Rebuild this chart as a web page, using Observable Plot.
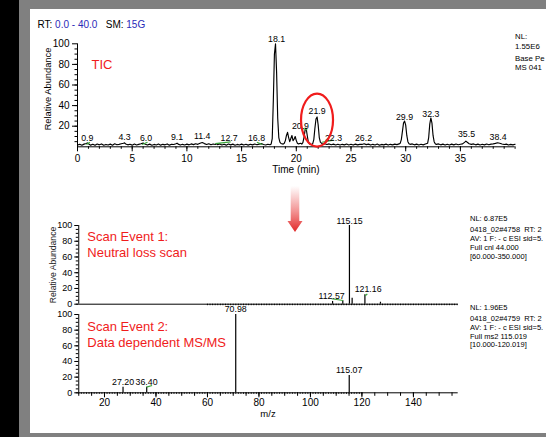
<!DOCTYPE html>
<html><head><meta charset="utf-8">
<script src="https://cdn.jsdelivr.net/npm/d3@7"></script>
<script src="https://cdn.jsdelivr.net/npm/@observablehq/plot@0.6"></script>
<style>
html,body{margin:0;padding:0;background:#fff;}
#wrap{position:relative;width:546px;height:437px;overflow:hidden;background:#808080;}
#black{position:absolute;left:0;top:0;width:19px;height:437px;background:#000;}
#panel{position:absolute;left:30px;top:9px;width:516px;height:424px;background:#fff;}
#wrap svg{position:absolute;left:0;top:0;}
</style></head><body>
<div id="wrap"><div id="black"></div><div id="panel"></div></div>
<script>
// ---------- data ----------
const ticPoints = [
[0.0,1.8],[0.2,2.4],[0.4,1.5],[0.6,2.6],[0.8,3.2],[0.9,3.8],[1.0,2.9],[1.2,1.6],[1.4,2.5],[1.6,1.4],[1.8,2.7],[2.0,1.9],[2.2,2.8],[2.4,1.5],[2.6,2.3],[2.8,1.7],[3.0,2.6],[3.2,1.6],[3.4,2.9],[3.6,2.0],[3.8,2.4],[4.0,2.9],[4.2,3.4],[4.3,3.8],[4.4,2.8],[4.6,1.9],[4.8,2.5],[5.0,1.6],[5.2,2.7],[5.4,1.8],[5.6,2.4],[5.8,2.9],[6.0,3.6],[6.2,2.5],[6.4,1.7],[6.6,2.6],[6.8,1.5],[7.0,2.3],[7.2,1.8],[7.4,2.7],[7.6,1.6],[7.8,2.4],[8.0,1.9],[8.2,2.8],[8.4,1.6],[8.6,2.5],[8.8,2.2],[9.0,3.0],[9.1,3.5],[9.2,2.6],[9.4,1.7],[9.6,2.4],[9.8,1.8],[10.0,2.6],[10.2,1.9],[10.4,2.8],[10.6,2.1],[10.8,3.0],[11.0,2.4],[11.2,3.4],[11.4,4.2],[11.6,3.1],[11.8,2.2],[12.0,3.0],[12.2,2.0],[12.4,2.7],[12.6,2.2],[12.7,3.0],[12.8,2.1],[13.0,2.8],[13.2,1.8],[13.4,2.5],[13.6,1.6],[13.8,2.7],[14.0,1.9],[14.2,2.6],[14.4,1.5],[14.6,2.3],[14.8,1.8],[15.0,2.6],[15.2,1.7],[15.4,2.4],[15.6,1.6],[15.8,2.5],[16.0,1.9],[16.2,2.7],[16.4,2.0],[16.6,2.6],[16.8,3.1],[17.0,2.2],[17.2,1.8],[17.4,2.5],[17.6,2.0],[17.7,2.6],
[17.8,8],[17.9,45],[18.0,90],[18.1,100],[18.2,72],[18.3,28],[18.4,9],[18.5,4.5],[18.6,3.2],[18.8,2.6],[18.9,3.4],[19.0,6],[19.1,11],[19.2,14],[19.3,9],[19.4,5],[19.5,8],[19.6,11],[19.7,6],[19.8,7.5],[19.9,10],[20.0,6],[20.1,3.5],[20.2,2.8],[20.4,3.4],[20.5,2.6],[20.6,4],[20.7,9],[20.8,16],[20.9,18],[21.0,11],[21.1,4.5],[21.2,2.8],[21.4,2.2],[21.5,3.0],[21.6,7],[21.7,18],[21.8,27],[21.9,29],[22.0,21],[22.1,9],[22.2,4.5],[22.3,3.6],[22.4,2.6],[22.6,3.0],[22.8,2.2],[23.0,2.8],[23.2,2.0],[23.4,2.6],[23.6,1.8],[23.8,2.5],[24.0,1.7],[24.2,2.4],[24.4,1.9],[24.6,2.7],[24.8,1.8],[25.0,2.5],[25.2,1.7],[25.4,2.6],[25.6,1.9],[25.8,2.4],[26.0,2.3],[26.2,3.0],[26.4,2.1],[26.6,2.6],[26.8,1.7],[27.0,2.4],[27.2,1.8],[27.4,2.7],[27.6,1.6],[27.8,2.3],[28.0,1.9],[28.2,2.6],[28.4,1.7],[28.6,2.4],[28.8,1.9],[29.0,2.6],[29.2,2.1],[29.4,2.8],[29.5,3.5],[29.6,7],[29.7,15],[29.8,23],[29.9,25],[30.0,21],[30.1,11],[30.2,5],[30.3,3.0],[30.4,2.4],[30.6,2.8],[30.8,1.9],[31.0,2.6],[31.2,1.8],[31.4,2.5],[31.6,1.9],[31.8,2.7],[32.0,3.4],[32.1,9],[32.2,22],[32.3,28],[32.4,23],[32.5,11],[32.6,5],[32.7,3.0],[32.8,2.3],[33.0,2.8],[33.2,1.9],[33.4,2.6],[33.6,1.7],[33.8,2.5],[34.0,1.8],[34.2,2.6],[34.4,1.9],[34.6,2.7],[34.8,2.0],[35.0,2.5],[35.2,2.8],[35.4,4.5],[35.5,5.5],[35.6,4.6],[35.8,3.0],[36.0,2.4],[36.2,2.8],[36.4,1.9],[36.6,2.6],[36.8,1.8],[37.0,2.5],[37.2,1.9],[37.4,2.7],[37.6,2.0],[37.8,2.6],[38.0,2.9],[38.2,3.3],[38.4,3.9],[38.6,3.4],[38.8,2.7],[39.0,2.2],[39.2,2.6],[39.4,1.8],[39.6,2.4],[39.8,1.9],[40.0,2.5]
];
const ticLabels = [
  {label:"0.9", lx:0.89, ly:5.4}, {label:"4.3", lx:4.3, ly:6.8}, {label:"6.0", lx:6.26, ly:5.4},
  {label:"9.1", lx:9.1, ly:6.8}, {label:"11.4", lx:11.4, ly:7.7}, {label:"12.7", lx:13.86, ly:6},
  {label:"16.8", lx:16.36, ly:6}, {label:"18.1", lx:18.2, ly:101.5}, {label:"20.9", lx:20.38, ly:17.4},
  {label:"21.9", lx:21.9, ly:32}, {label:"22.3", lx:23.4, ly:6}, {label:"26.2", lx:26.14, ly:6},
  {label:"29.9", lx:29.89, ly:26.5}, {label:"32.3", lx:32.3, ly:29.4}, {label:"35.5", lx:35.56, ly:9.3},
  {label:"38.4", lx:38.45, ly:6.8}
];
const ticLeaders = [ // green label leaders [x1,y1,x2,y2]
  [0.82,2.2,1.13,4.4],[5.9,2.2,6.4,4.4],[12.6,3,14.0,4.8],[16.4,4.4,16.9,2.2],[20.5,18,21.0,16.5],[22.35,4.4,23.4,6.4]
];
const ticXTicks = [0,5,10,15,20,25,30,35];
const ticYTicks = [20,40,60,80,100];

const spec1 = [{mz:108.6,ab:3.5},{mz:112.57,ab:4.5},{mz:115.15,ab:100},{mz:116.2,ab:7.5},{mz:121.16,ab:12},{mz:127.2,ab:2.5}];
const spec1Labels = [{label:"115.15", mz:115.2, ab:102},{label:"112.57", mz:108.2, ab:6.9},{label:"121.16", mz:122.4, ab:15}];
const spec1Leaders = [[108.2,6.9,112.7,4.7],[121.3,10.7,122.1,13.2]];

const spec2 = [{mz:27.20,ab:7},{mz:36.40,ab:7},{mz:70.98,ab:100},{mz:115.07,ab:22}];
const spec2Labels = [{label:"70.98", mz:70.98, ab:103},{label:"115.07", mz:115.07, ab:25},{label:"27.20", mz:27.2, ab:10.6},{label:"36.40", mz:36.35, ab:10.6}];
const spec2Leaders = [[36.3,7.2,38.5,9.3]];

const specXTicks = [20,40,60,80,100,120,140];
const specYTicks = [0,20,40,60,80,100];

const infoTic = ["NL:", "1.55E6", "Base Pe", "MS 041"];
const info1 = ["NL: 6.87E5", "0418_02#4758  RT: 2", "AV: 1 F: - c ESI sid=5.", "Full cnl 44.000", "[60.000-350.000]"];
const info2 = ["NL: 1.96E5", "0418_02#4759  RT: 2", "AV: 1 F: - c ESI sid=5.", "Full ms2 115.019", "[10.000-120.019]"];

// ---------- drawing ----------
const FONT = 'Arial, "Liberation Sans", sans-serif';
const GREEN = "#3aa63a";
const RED = "#f01c1c";
const BLUE = "#2a2ab8";
const LABEL_SIZE = 8.8;
const wrap = document.getElementById("wrap");
const baseStyle = {fontFamily: FONT, fontSize: "10px", background: "transparent", overflow: "visible"};

const ticPlot = Plot.plot({
  width: 546, height: 437,
  marginLeft: 77, marginRight: 31.4, marginTop: 43.3, marginBottom: 290.7,
  x: {domain: [0, 40], label: null}, y: {domain: [0, 100], label: null},
  style: baseStyle,
  marks: [
    Plot.ruleY([0], {x1: 0, x2: 40, stroke: "black"}),
    Plot.ruleX([0], {y1: 0, y2: 100, stroke: "black"}),
    Plot.axisX(ticXTicks, {tickSize: 5, tickPadding: 3, fontSize: 10, label: null}),
    Plot.axisX(d3.range(0, 41), {tickSize: 2.5, tickFormat: () => "", label: null}),
    Plot.axisY(ticYTicks, {tickSize: 5, tickPadding: 3, fontSize: 10, label: null}),
    Plot.axisY(d3.range(5, 100, 5), {tickSize: 2.5, tickFormat: () => "", label: null}),
    Plot.line(ticPoints, {x: d => d[0], y: d => d[1], stroke: "black", strokeWidth: 1.15}),
    Plot.link(ticLeaders, {x1: d => d[0], y1: d => d[1], x2: d => d[2], y2: d => d[3], stroke: GREEN, strokeWidth: 1.2}),
    Plot.text(ticLabels, {x: "lx", y: "ly", text: "label", lineAnchor: "bottom", fontSize: LABEL_SIZE, fill: "black"})
  ]
});

function specPlot(sticks, labels, leaders, top, bottom, showX, minorFrom, minorTo) {
  const marks = [
    Plot.ruleY([0], {x1: 10, x2: 157.4, stroke: "black"}),
    Plot.ruleX([10], {y1: 0, y2: 100, stroke: "black"}),
    Plot.axisY(specYTicks, {tickSize: 4, tickPadding: 2.5, fontSize: 9, label: null}),
    Plot.axisY(d3.range(0, 101, 5), {tickSize: 2.5, tickFormat: () => "", label: null}),
    Plot.axisX(d3.range(minorFrom, minorTo), {tickSize: 1.5, tickFormat: () => "", label: null})
  ];
  if (showX) {
    marks.push(Plot.axisX(specXTicks, {tickSize: 5, tickPadding: 1.5, fontSize: 10, label: null}));
    marks.push(Plot.axisX(d3.range(10, 158, 5), {tickSize: 3.5, tickFormat: () => "", label: null}));
  }
  marks.push(
    Plot.ruleX(sticks, {x: "mz", y1: 0, y2: "ab", stroke: "black", strokeWidth: 1.2}),
    Plot.link(leaders, {x1: d => d[0], y1: d => d[1], x2: d => d[2], y2: d => d[3], stroke: GREEN, strokeWidth: 1.2}),
    Plot.text(labels, {x: "mz", y: "ab", text: "label", lineAnchor: "bottom", fontSize: LABEL_SIZE, fill: "black"})
  );
  return Plot.plot({
    width: 546, height: 437,
    marginLeft: 78.25, marginRight: 88.3, marginTop: top, marginBottom: 437 - bottom,
    x: {domain: [10, 157.4], label: null}, y: {domain: [0, 100], label: null},
    style: baseStyle,
    marks
  });
}
const s1 = specPlot(spec1, spec1Labels, spec1Leaders, 225, 303.7, false, 60, 158);
const s2 = specPlot(spec2, spec2Labels, spec2Leaders, 314, 392.3, true, 10, 121);

wrap.appendChild(ticPlot);
wrap.appendChild(s1);
wrap.appendChild(s2);

// red ellipse around the 21.9 peak, placed through the TIC scales
const sx = ticPlot.scale("x"), sy = ticPlot.scale("y");
d3.select(ticPlot).append("ellipse")
  .attr("cx", sx.apply(21.94)).attr("cy", sy.apply(25.5))
  .attr("rx", 16).attr("ry", 26.5)
  .attr("fill", "none").attr("stroke", RED).attr("stroke-width", 2.2);

// ---------- annotation overlay ----------
const ov = d3.create("svg").attr("width", 546).attr("height", 437)
  .style("font-family", FONT).style("overflow", "hidden");
const defs = ov.append("defs");
const lg = defs.append("linearGradient").attr("id", "arrowGrad")
  .attr("gradientUnits", "userSpaceOnUse").attr("x1", 0).attr("y1", 186).attr("x2", 0).attr("y2", 232);
lg.append("stop").attr("offset", 0).attr("stop-color", "#e83a3a").attr("stop-opacity", 0);
lg.append("stop").attr("offset", 0.55).attr("stop-color", "#e83a3a").attr("stop-opacity", 0.55);
lg.append("stop").attr("offset", 1).attr("stop-color", "#e02828").attr("stop-opacity", 1);
ov.append("path")
  .attr("d", "M290.7,186 L299.3,186 L299.3,221 L302.5,221 L295,232 L287.5,221 L290.7,221 Z")
  .attr("fill", "url(#arrowGrad)");

function txt(x, y, s, opts = {}) {
  const t = ov.append("text").attr("x", x).attr("y", y)
    .attr("font-size", opts.size || 10).attr("fill", opts.fill || "black")
    .attr("text-anchor", opts.anchor || "start").attr("xml:space", "preserve")
    .style("white-space", "pre");
  if (opts.rotate) t.attr("transform", `rotate(-90 ${x} ${y})`);
  t.text(s);
  return t;
}
// header
const h = ov.append("text").attr("x", 37.5).attr("y", 28.3).attr("font-size", 10).style("white-space", "pre");
h.append("tspan").attr("fill", "black").text("RT: ");
h.append("tspan").attr("fill", BLUE).text("0.0 - 40.0");
h.append("tspan").attr("fill", "black").text("   SM: ");
h.append("tspan").attr("fill", BLUE).text("15G");

// axis titles
txt(296, 173, "Time (min)", {anchor: "middle"});
txt(268, 417, "m/z", {anchor: "middle", size: 9.5});
txt(51, 89, "Relative Abundance", {anchor: "middle", rotate: true, size: 9.3});
txt(55.5, 265, "Relative Abundance", {anchor: "middle", rotate: true, size: 8.6, fill: "#222"});

// red annotations
txt(91.5, 69.3, "TIC", {size: 13, fill: RED});
txt(87.3, 240.7, "Scan Event 1:", {size: 13, fill: RED});
txt(87.3, 256.7, "Neutral loss scan", {size: 13, fill: RED});
txt(87.3, 331, "Scan Event 2:", {size: 13, fill: RED});
txt(87.3, 346.7, "Data dependent MS/MS", {size: 13, fill: RED});

// info blocks
const infoTicY = [39, 49, 61, 69.5];
infoTic.forEach((s, i) => txt(515, infoTicY[i], s, {size: 7.8}));
const info1Y = [220.5, 231.5, 240.5, 249.5, 258.5];
info1.forEach((s, i) => txt(470, info1Y[i], s, {size: 7.5}));
const info2Y = [309.7, 320.7, 329.7, 338.7, 347.3];
info2.forEach((s, i) => txt(470, info2Y[i], s, {size: 7.5}));

wrap.appendChild(ov.node());
</script>
</body></html>
